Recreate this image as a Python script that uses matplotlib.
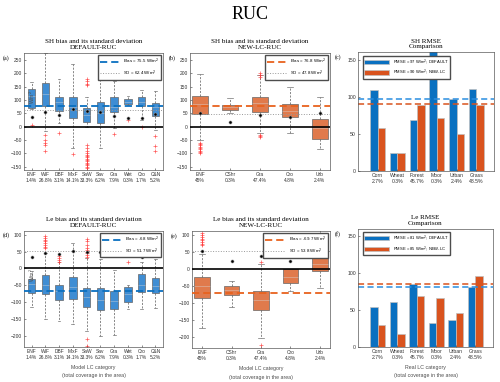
import numpy as np
import matplotlib
matplotlib.use("Agg")
import matplotlib.pyplot as plt

plt.rcParams.update({"font.family": ["Liberation Sans", "DejaVu Sans"],
                     "font.size": 3.5, "axes.linewidth": 0.5,
                     "axes.edgecolor": "0.35"})

SERIF = "Liberation Serif"
BLUE_BOX, ORANGE_BOX = "#3f8dd3", "#e07a4c"
BLUE, ORANGE = "#0a70c0", "#d9531e"

# ---- SH, DEFAULT-RUC (a) ----
sh_def_cats = ["ENF", "WIF", "DBF", "MixF", "SaW", "Sav", "Gra", "Wet", "Cro", "C&N"]
sh_def_cover = ["1.4%", "26.8%", "3.1%", "14.1%", "33.3%", "6.2%", "7.9%", "0.3%", "1.7%", "5.2%"]
sh_def_q1 = [69, 78, 60, 31, 19, 12, 53, 85, 78, 40]
sh_def_med = [115, 122, 94, 75, 44, 50, 75, 94, 94, 72]
sh_def_q3 = [140, 162, 110, 112, 71, 94, 110, 104, 110, 88]
sh_def_lo = [65, -18, 12, -80, 0, -80, -6, 80, 25, -12]
sh_def_hi = [166, 275, 179, 235, 110, 178, 171, 116, 138, 132]
sh_def_dot = [37, 56, 44, 65, 59, 56, 41, 31, 34, 46]
sh_def_fliers = [[8], [-30, -50, -60, -70, -90], [-22], [-101],
                 [155, 160, 170, 178, -70, -80, -90, -100, -105, -110, -115, -120,
                  -125, -130, -135, -140, -145, -150, -155],
                 [], [-29], [25], [-3], [-35, -72, -90]]
sh_def_bias, sh_def_sd = 75.5, 62.4

# ---- SH, NEW-LC-RUC (b) ----
new_cats = ["ENF", "CShr", "Gra", "Cro", "Urb"]
new_cover = ["45%", "0.3%", "47.4%", "4.8%", "2.4%"]
sh_new_q1 = [46, 62, 54, 35, -48]
sh_new_med = [85, 75, 87, 60, -6]
sh_new_q3 = [115, 81, 112, 84, 30]
sh_new_lo = [-50, 50, -25, -22, -85]
sh_new_hi = [196, 106, 194, 147, 110]
sh_new_dot = [52, 19, 44, 35, 52]
sh_new_fliers = [[-60, -65, -70, -75, -80, -85, -90, -95, -100], [],
                 [185, 192, 200, -30, -35, -40], [], []]
sh_new_bias, sh_new_sd = 76.8, 47.8

# ---- Le, DEFAULT-RUC (d) ----
le_def_q1 = [-73, -76, -94, -91, -116, -124, -121, -101, -71, -74]
le_def_med = [-47, -48, -66, -56, -86, -94, -96, -76, -50, -51]
le_def_q3 = [-30, -20, -50, -24, -58, -59, -66, -56, -17, -29]
le_def_lo = [-116, -150, -155, -165, -185, -200, -198, -121, -121, -118]
le_def_hi = [-7, 45, 18, 77, 30, 28, -4, -50, 18, 28]
le_def_dot = [35, 45, 43, 52, 48, 48, 43, 50, 35, 43]
le_def_fliers = [[], [60, 65, 70, 75, 80, 85, 90, 95], [20, 25, 30, 38], [],
                 [35, 40, 45, 50, 55, 60, 70, 80, 88, -210, -230],
                 [], [], [20], [], [50]]
le_def_bias, le_def_sd = -68, 51.7

# ---- Le, NEW-LC-RUC (e) ----
le_new_q1 = [-84, -78, -121, -40, -7]
le_new_med = [-51, -61, -91, -22, 15]
le_new_q3 = [-24, -50, -64, 0, 46]
le_new_lo = [-173, -113, -203, -66, -56]
le_new_hi = [45, -35, 15, 0, 114]
le_new_dot = [52, 25, 40, 25, 48]
le_new_fliers = [[70, 75, 80, 85, 90, 95, 100, 105], [], [20, -225], [], []]
le_new_bias, le_new_sd = -69.7, 53.8

# ---- RMSE comparison (c, f) ----
real_cats = ["Corn", "Wheat", "Forest", "Moor", "Urban", "Grass"]
real_cover = ["2.7%", "0.3%", "45.7%", "0.3%", "2.4%", "48.5%"]
sh_rmse_def = [109.5, 24, 69, 165, 97, 111]
sh_rmse_new = [58.6, 24, 89.5, 71, 50.5, 88.6]
sh_rmse_tot = (97, 90)
le_rmse_def = [54, 60.6, 84.6, 31.7, 36, 81]
le_rmse_new = [30, 17.6, 68.8, 65.6, 46, 95.5]
le_rmse_tot = (81, 85)


def box_panel(ax, cats, cover, q1, med, q3, lo, hi, dots, fliers, bias, sd,
              fill, line, ylim, yticks, title, label, ylabel=True):
    stats = [dict(q1=a, med=m, q3=b, whislo=l, whishi=h, fliers=f)
             for a, m, b, l, h, f in zip(q1, med, q3, lo, hi, fliers)]
    pos = np.arange(1, len(cats) + 1)
    many = len(cats) > 6
    ax.bxp(stats, positions=pos, widths=0.55 if many else 0.52,
           patch_artist=True, showfliers=True,
           boxprops=dict(facecolor=fill, edgecolor="0.4", linewidth=0.5),
           medianprops=dict(color="0.85", linewidth=0.4, alpha=0.7),
           whiskerprops=dict(color="0.35", linewidth=0.5, linestyle=(0, (3, 2))),
           capprops=dict(color="0.45", linewidth=0.5),
           capwidths=0.2,
           flierprops=dict(marker="+", markeredgecolor="#ff3030", markersize=2.6,
                           markeredgewidth=0.5, alpha=0.8))
    ax.plot(pos, dots, "o", ms=2.2, mfc="k", mec="0.55", mew=0.4, ls="none", zorder=4)
    ax.axhline(0, color="k", lw=1.2, zorder=3)
    ax.axhline(bias, color=line, lw=1.3, dashes=(4, 2.2), zorder=3,
               label=f"Bias = {bias} W/m$^2$")
    ax.axhline(sd, color="0.6", lw=0.7, ls=":", zorder=3,
               label=f"SD = {sd} W/m$^2$")
    ax.set_xlim(0.45 if many else 0.66, len(cats) + (0.55 if many else 0.34))
    ax.set_ylim(*ylim)
    ax.set_yticks(yticks)
    ax.set_xticks(pos)
    ax.set_xticklabels([f"{c}\n{p}" for c, p in zip(cats, cover)], linespacing=1.2)
    ax.tick_params(direction="in", length=1.5, width=0.4, pad=1.5, labelsize=3.5,
                   colors="0.2")
    ax.legend(loc="upper right", fontsize=3.2, handlelength=4.5, framealpha=1,
              edgecolor="0.3", fancybox=False, borderpad=0.4, labelspacing=0.5)
    ax.set_title(title, fontfamily=SERIF, fontsize=5.1, pad=3, linespacing=1.15)
    ax.text(-0.155, 0.96, label, transform=ax.transAxes, fontsize=4.3,
            fontfamily=SERIF, va="center")
    if ylabel:
        ax.text(0.03, 0.62, "W/m$^2$", transform=ax.transAxes, rotation=90,
                fontsize=3.5, color="0.3", va="center")


def bar_panel(ax, vdef, vnew, tot, title, label):
    x = np.arange(1, len(real_cats) + 1)
    w = 0.38
    ax.bar(x - w / 2, vdef, w, color=BLUE, edgecolor="0.75", linewidth=0.5,
           label=f"RMSE = {tot[0]} W/m$^2$; DEFAULT")
    ax.bar(x + w / 2, vnew, w, color=ORANGE, edgecolor="0.75", linewidth=0.5,
           label=f"RMSE = {tot[1]} W/m$^2$; NEW-LC")
    ax.axhline(tot[0], color="#2a8ee0", lw=1.1, dashes=(4, 2.2))
    ax.axhline(tot[1], color=ORANGE, lw=1.1, dashes=(4, 2.2))
    ax.set_xlim(0, 6.9)
    ax.set_ylim(0, 160)
    ax.set_yticks([0, 50, 100, 150])
    ax.set_xticks(x)
    ax.set_xticklabels([f"{c}\n{p}" for c, p in zip(real_cats, real_cover)],
                       linespacing=1.2)
    ax.tick_params(direction="in", length=1.5, width=0.4, pad=1.5, labelsize=3.7,
                   colors="0.2")
    ax.legend(loc="upper left", fontsize=3.0, handlelength=6, handleheight=1.2,
              framealpha=1, edgecolor="0.3", fancybox=False, borderpad=0.4,
              labelspacing=0.35, bbox_to_anchor=(0.02, 0.99))
    ax.set_title(title, fontfamily=SERIF, fontsize=5.1, pad=3, linespacing=1.15)
    ax.text(-0.17, 0.96, label, transform=ax.transAxes, fontsize=4.3,
            fontfamily=SERIF, va="center")


fig = plt.figure(figsize=(5.0, 3.82), dpi=100)
fig.text(0.5, 0.963, "RUC", ha="center", va="center", fontfamily=SERIF, fontsize=13)

ax_a = fig.add_axes([0.048, 0.555, 0.278, 0.306])
ax_b = fig.add_axes([0.38, 0.555, 0.28, 0.306])
ax_c = fig.add_axes([0.716, 0.552, 0.272, 0.311])
ax_d = fig.add_axes([0.048, 0.092, 0.278, 0.304])
ax_e = fig.add_axes([0.384, 0.089, 0.276, 0.306])
ax_f = fig.add_axes([0.716, 0.092, 0.27, 0.309])

sh_ylim, sh_ticks = (-162, 275), np.arange(-150, 251, 50)
le_ylim, le_ticks = (-233, 112), np.arange(-200, 101, 50)

box_panel(ax_a, sh_def_cats, sh_def_cover, sh_def_q1, sh_def_med, sh_def_q3,
          sh_def_lo, sh_def_hi, sh_def_dot, sh_def_fliers, sh_def_bias, sh_def_sd,
          BLUE_BOX, "#0a70c0", sh_ylim, sh_ticks,
          "SH bias and its standard deviation\nDEFAULT-RUC", "(a)")
box_panel(ax_b, new_cats, new_cover, sh_new_q1, sh_new_med, sh_new_q3,
          sh_new_lo, sh_new_hi, sh_new_dot, sh_new_fliers, sh_new_bias, sh_new_sd,
          ORANGE_BOX, "#e8621e", sh_ylim, sh_ticks,
          "SH bias and its standard deviation\nNEW-LC-RUC", "(b)", ylabel=False)
bar_panel(ax_c, sh_rmse_def, sh_rmse_new, sh_rmse_tot, "SH RMSE\nComparison", "(c)")
box_panel(ax_d, sh_def_cats, sh_def_cover, le_def_q1, le_def_med, le_def_q3,
          le_def_lo, le_def_hi, le_def_dot, le_def_fliers, le_def_bias, le_def_sd,
          BLUE_BOX, "#0a70c0", le_ylim, le_ticks,
          "Le bias and its standard deviation\nDEFAULT-RUC", "(d)")
box_panel(ax_e, new_cats, new_cover, le_new_q1, le_new_med, le_new_q3,
          le_new_lo, le_new_hi, le_new_dot, le_new_fliers, le_new_bias, le_new_sd,
          ORANGE_BOX, "#e8621e", le_ylim, le_ticks,
          "Le bias and its standard deviation\nNEW-LC-RUC", "(e)", ylabel=False)
bar_panel(ax_f, le_rmse_def, le_rmse_new, le_rmse_tot, "Le RMSE\nComparison", "(f)")

for ax in (ax_d, ax_e):
    ax.set_xlabel("Model LC category\n(total coverage in the area)", fontsize=3.8,
                  color="0.3", labelpad=4, linespacing=1.8)
ax_f.set_xlabel("Real LC category\n(total coverage in the area)", fontsize=3.8,
                color="0.3", labelpad=4, linespacing=1.8)

fig.savefig("out.png", dpi=100)
